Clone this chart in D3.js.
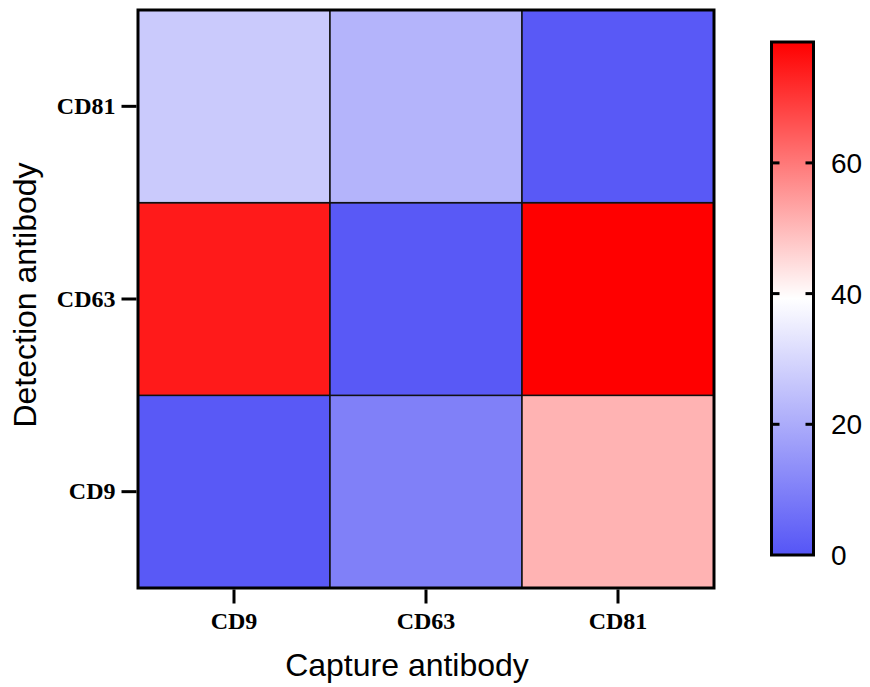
<!DOCTYPE html>
<html><head><meta charset="utf-8">
<script src="https://cdn.jsdelivr.net/npm/d3@7"></script>
<style>body{margin:0;background:#fff}</style>
</head><body><svg id="c" width="870" height="687"></svg>
<script>
const captureCats = ["CD9", "CD63", "CD81"];
const detectionCats = ["CD9", "CD63", "CD81"];
// values[detectionIndex][captureIndex]
const values = [
  [1, 10, 51],     // detection CD9
  [74.5, 1, 78.5], // detection CD63
  [27, 22, 1]      // detection CD81
];
const colorTicks = [0, 20, 40, 60];
const colorDomain = [0, 39.25, 78.5];
const colorRange = ["#5555F6", "#FFFFFF", "#FF0000"];

const svg = d3.select("#c");
const L = 138, R = 714, T = 10, B = 588;
const x = d3.scaleBand().domain(captureCats).range([L, R]);
const y = d3.scaleBand().domain(detectionCats).range([B, T]);
const color = d3.scaleLinear().domain(colorDomain).range(colorRange);

const cells = [];
detectionCats.forEach((d, i) => captureCats.forEach((c, j) => cells.push({d, c, v: values[i][j]})));
svg.append("g").selectAll("rect").data(cells).join("rect")
  .attr("x", d => x(d.c)).attr("y", d => y(d.d))
  .attr("width", x.bandwidth()).attr("height", y.bandwidth())
  .attr("fill", d => color(d.v)).attr("stroke", "#111").attr("stroke-width", 1.5);
svg.append("rect").attr("x", L).attr("y", T).attr("width", R - L).attr("height", B - T)
  .attr("fill", "none").attr("stroke", "#000").attr("stroke-width", 3);

// axes
const xAxis = svg.append("g").attr("transform", `translate(0,${B + 1.5})`)
  .call(d3.axisBottom(x).tickSize(14).tickPadding(8));
const yAxis = svg.append("g").attr("transform", `translate(${L - 1.5},0)`)
  .call(d3.axisLeft(y).tickSize(15).tickPadding(6));
[xAxis, yAxis].forEach(a => {
  a.select(".domain").remove();
  a.selectAll(".tick line").attr("stroke", "#000").attr("stroke-width", 3);
  a.selectAll(".tick text").attr("font-family", "Liberation Serif, Times New Roman, serif")
    .attr("font-weight", "bold").attr("font-size", 24).attr("fill", "#000");
});

svg.append("text").attr("x", 407).attr("y", 676).attr("text-anchor", "middle")
  .attr("font-family", "Liberation Sans, Arial, sans-serif").attr("font-size", 32).text("Capture antibody");
svg.append("text").attr("transform", `translate(36,295) rotate(-90)`).attr("text-anchor", "middle")
  .attr("font-family", "Liberation Sans, Arial, sans-serif").attr("font-size", 32).text("Detection antibody");

// color bar
const cbL = 771.5, cbR = 813.5, cbT = 42, cbB = 555;
const cy = d3.scaleLinear().domain([colorDomain[0], colorDomain[2]]).range([cbB, cbT]);
const defs = svg.append("defs");
const grad = defs.append("linearGradient").attr("id", "g").attr("x1", 0).attr("y1", 1).attr("x2", 0).attr("y2", 0);
colorDomain.forEach((v, i) => grad.append("stop")
  .attr("offset", (v - colorDomain[0]) / (colorDomain[2] - colorDomain[0])).attr("stop-color", colorRange[i]));
svg.append("rect").attr("x", cbL).attr("y", cbT).attr("width", cbR - cbL).attr("height", cbB - cbT)
  .attr("fill", "url(#g)").attr("stroke", "#000").attr("stroke-width", 3);
const tg = svg.append("g");
colorTicks.forEach(t => {
  if (t > 0) {
    tg.append("line").attr("x1", cbL).attr("x2", cbL + 8).attr("y1", cy(t)).attr("y2", cy(t)).attr("stroke", "#000").attr("stroke-width", 3);
    tg.append("line").attr("x1", cbR - 8).attr("x2", cbR).attr("y1", cy(t)).attr("y2", cy(t)).attr("stroke", "#000").attr("stroke-width", 3);
  }
  tg.append("text").attr("x", 831).attr("y", cy(t)).attr("dy", "0.36em")
    .attr("font-family", "Liberation Sans, Arial, sans-serif").attr("font-size", 28).text(t);
});
</script></body></html>
